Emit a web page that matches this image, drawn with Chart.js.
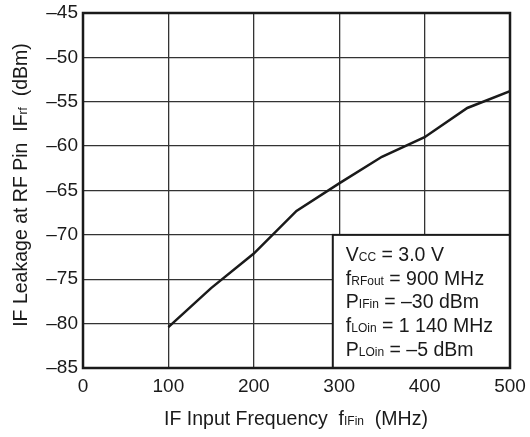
<!DOCTYPE html>
<html>
<head>
<meta charset="utf-8">
<script src="https://cdn.jsdelivr.net/npm/chart.js@4"></script>
<style>
  html, body { margin: 0; padding: 0; background: #fff; }
  #wrap { width: 530px; height: 437px; }
</style>
</head>
<body>
<div id="wrap"><canvas id="leakChart" width="530" height="437"></canvas></div>
<script>
// IF leakage measured at the RF pin vs IF input frequency
const freqMHz = [100, 150, 200, 250, 300, 350, 400, 450, 500];
const leakDbm = [-80.4, -76.0, -72.1, -67.3, -64.2, -61.2, -59.0, -55.7, -53.8];

const xTicks = [0, 100, 200, 300, 400, 500];
const yTicks = [-85, -80, -75, -70, -65, -60, -55, -50, -45];

// conditions box: [main text, subscript, rest]
const conditions = [
    ["V", "CC", " = 3.0 V"],
    ["f", "RFout", " = 900 MHz"],
    ["P", "IFin", " = \u201330 dBm"],
    ["f", "LOin", " = 1 140 MHz"],
    ["P", "LOin", " = \u20135 dBm"]
];

const FONT = "Arial, 'Liberation Sans', Helvetica, sans-serif";
const INK = "#1a1a1a";

function dash(v) {
    return v < 0 ? "\u2013" + Math.abs(v) : String(v);
}

// draws runs of text where odd runs are subscripts
function drawRuns(ctx, runs, x, y, size, subSize, align) {
    const total = runs.reduce((w, r, i) => {
        ctx.font = (i % 2 ? subSize : size) + "px " + FONT;
        return w + ctx.measureText(r).width;
    }, 0);
    let cx = align === "center" ? x - total / 2 : x;
    runs.forEach((r, i) => {
        ctx.font = (i % 2 ? subSize : size) + "px " + FONT;
        ctx.fillText(r, cx, y);
        cx += ctx.measureText(r).width;
    });
}

const annotations = {
    id: "annotations",
    afterDraw(chart) {
        const {ctx, chartArea: a, scales} = chart;
        ctx.save();

        // conditions box in the lower right corner
        const bx = scales.x.getPixelForValue(292.5);
        const by = scales.y.getPixelForValue(-70);
        ctx.fillStyle = "#fff";
        ctx.fillRect(bx, by, a.right - bx, a.bottom - by);
        ctx.strokeStyle = INK;
        ctx.lineWidth = 2;
        ctx.strokeRect(bx, by, a.right - bx, a.bottom - by);

        ctx.fillStyle = INK;
        ctx.textBaseline = "alphabetic";
        ctx.textAlign = "left";
        conditions.forEach((c, i) => {
            drawRuns(ctx, c, bx + 13, by + 26 + i * 23.8, 19.5, 12, "left");
        });

        // outer frame
        ctx.lineWidth = 2.5;
        ctx.strokeRect(a.left, a.top, a.right - a.left, a.bottom - a.top);

        // axis titles
        drawRuns(ctx, ["IF Input Frequency  f", "IFin", "  (MHz)"], 296, 425, 19.5, 12, "center");
        ctx.translate(27, 185);
        ctx.rotate(-Math.PI / 2);
        drawRuns(ctx, ["IF Leakage at RF Pin  IF", "rf", "  (dBm)"], 0, 0, 19.5, 12, "center");

        ctx.restore();
    }
};

const ctx = document.getElementById("leakChart").getContext("2d");
new Chart(ctx, {
    type: "line",
    data: {
        datasets: [{
            data: freqMHz.map((f, i) => ({x: f, y: leakDbm[i]})),
            borderColor: INK,
            borderWidth: 2.5,
            pointRadius: 0,
            tension: 0,
            fill: false
        }]
    },
    options: {
        responsive: false,
        animation: false,
        devicePixelRatio: 1,
        layout: {padding: {top: 13, right: 20, left: 0, bottom: 0}},
        plugins: {legend: {display: false}, tooltip: {enabled: false}},
        scales: {
            x: {
                type: "linear",
                min: 0,
                max: 500,
                afterFit: s => { s.height = 69; s.paddingLeft = 0; s.paddingRight = 0; },
                afterBuildTicks: s => { s.ticks = xTicks.map(v => ({value: v})); },
                grid: {color: "#333", lineWidth: 1.3, drawTicks: false},
                border: {display: false},
                ticks: {color: INK, font: {size: 19, family: FONT}, padding: 7, callback: dash, maxRotation: 0}
            },
            y: {
                min: -85,
                max: -45,
                afterFit: s => { s.width = 83; s.paddingTop = 0; s.paddingBottom = 0; },
                afterBuildTicks: s => { s.ticks = yTicks.map(v => ({value: v})); },
                grid: {color: "#333", lineWidth: 1.3, drawTicks: false},
                border: {display: false},
                ticks: {color: INK, font: {size: 19, family: FONT}, padding: 5, callback: dash}
            }
        }
    },
    plugins: [annotations]
});
</script>
</body>
</html>
